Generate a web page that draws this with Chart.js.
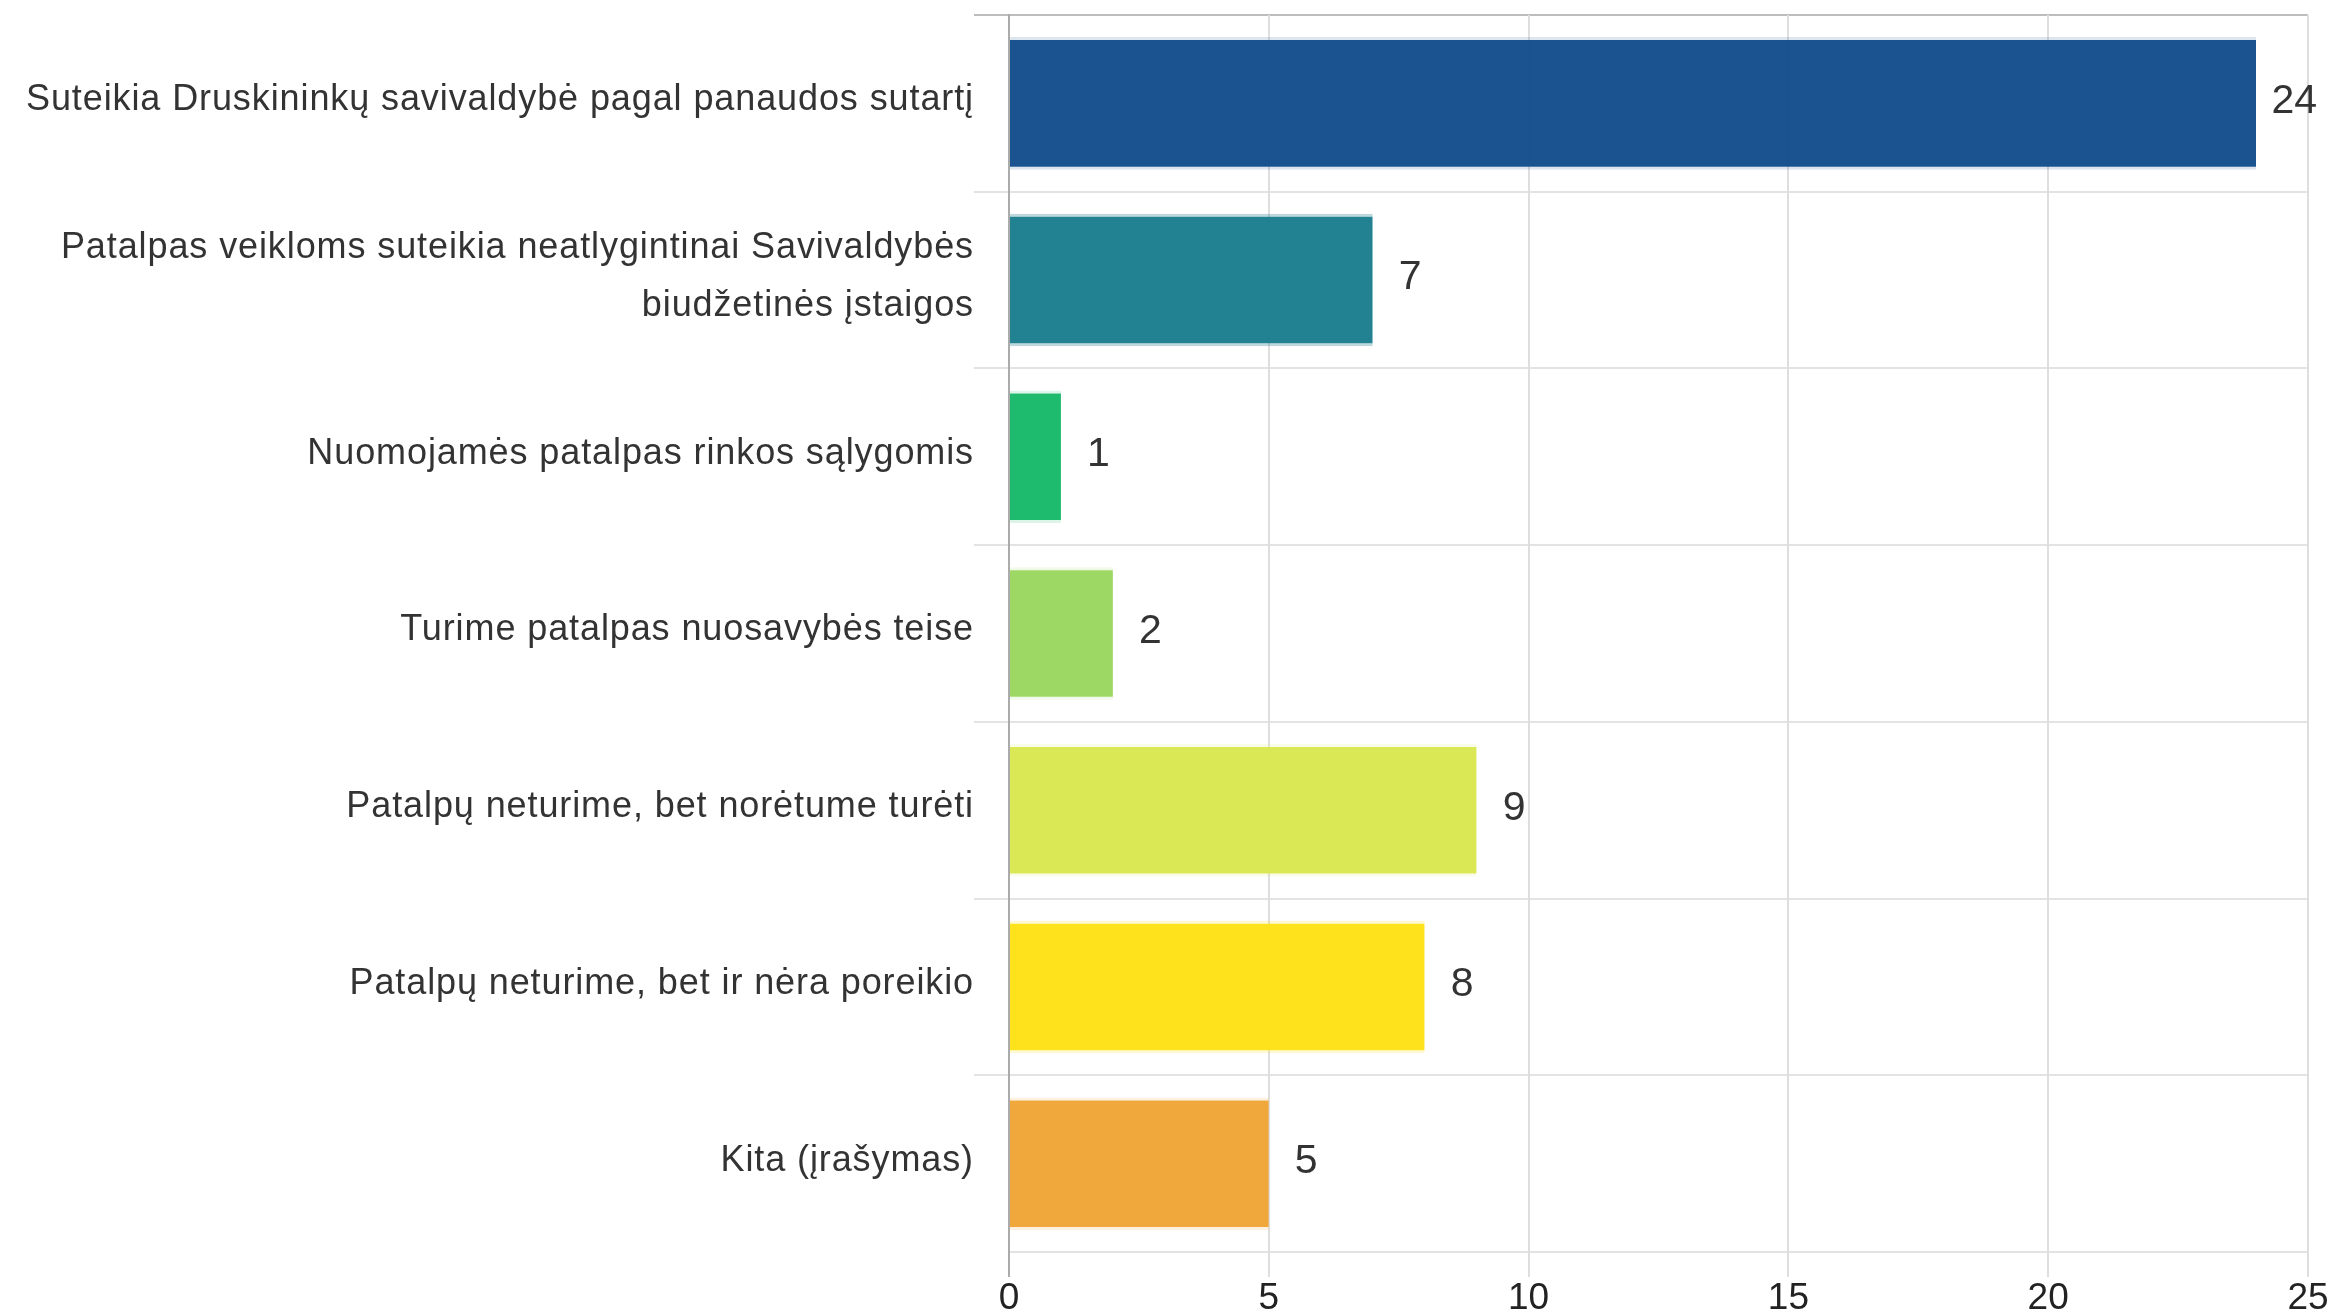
<!DOCTYPE html>
<html>
<head>
<meta charset="utf-8">
<script src="https://cdn.jsdelivr.net/npm/chart.js@4"></script>
<style>
  html, body { margin: 0; padding: 0; background: #ffffff; }
  #wrap { width: 2332px; height: 1314px; position: relative; }
</style>
</head>
<body>
<div id="wrap"><canvas id="c" width="2332" height="1314"></canvas></div>
<script>
const categories = [
  'Suteikia Druskininkų savivaldybė pagal panaudos sutartį',
  ['Patalpas veikloms suteikia neatlygintinai Savivaldybės', 'biudžetinės įstaigos'],
  'Nuomojamės patalpas rinkos sąlygomis',
  'Turime patalpas nuosavybės teise',
  'Patalpų neturime, bet norėtume turėti',
  'Patalpų neturime, bet ir nėra poreikio',
  'Kita (įrašymas)'
];
const values = [24, 7, 1, 2, 9, 8, 5];
const barColors = ['rgba(15,74,139,0.95)', 'rgba(23,123,140,0.95)', 'rgba(18,182,102,0.95)', 'rgba(153,214,92,0.95)', 'rgba(216,231,76,0.95)', 'rgba(253,224,16,0.95)', 'rgba(239,163,51,0.95)'];
const barEdgeColors = ['rgba(26,82,145,0.15)', 'rgba(35,129,145,0.3)', 'rgba(30,186,110,0.15)', 'rgba(159,216,100,0.15)', 'rgba(218,232,85,0.15)', 'rgba(253,226,28,0.2)', 'rgba(240,168,61,0.15)'];
const xTickMin = 0, xTickMax = 25, xTickStep = 5;

const FONT = "'Liberation Sans', Arial, sans-serif";

const valueLabels = {
  id: 'valueLabels',
  afterDatasetsDraw(chart) {
    const ctx = chart.ctx;
    const meta = chart.getDatasetMeta(0);
    ctx.save();
    ctx.letterSpacing = '0px';
    ctx.font = '41px ' + FONT;
    ctx.fillStyle = '#333333';
    ctx.textAlign = 'left';
    ctx.textBaseline = 'middle';
    meta.data.forEach((bar, i) => {
      const txt = String(values[i]);
      const w = ctx.measureText(txt).width;
      const x = Math.min(bar.x + 26, chart.width - 15 - w);
      ctx.fillText(txt, x, bar.y - 2);
    });
    ctx.restore();
  }
};

const wideLabels = {
  id: 'wideLabels',
  afterLayout(chart) {
    const s = chart.scales.y;
    if (s && !s._wide) {
      const orig = s.drawLabels;
      s.drawLabels = function (area) {
        const c = this.ctx;
        c.save();
        c.letterSpacing = '0.9px';
        c.translate(0, -3);
        orig.call(this, area);
        c.restore();
      };
      s._wide = true;
    }
  }
};

new Chart(document.getElementById('c'), {
  type: 'bar',
  data: {
    labels: categories,
    datasets: [{
      data: values,
      backgroundColor: barColors,
      borderColor: barEdgeColors,
      borderWidth: { top: 3, bottom: 3, left: 0, right: 0 },
      borderSkipped: false,
      categoryPercentage: 1,
      barPercentage: 0.75
    }]
  },
  options: {
    indexAxis: 'y',
    responsive: false,
    animation: false,
    layout: { padding: { top: 15, right: 24, bottom: 0, left: 0 } },
    plugins: { legend: { display: false }, tooltip: { enabled: false } },
    scales: {
      y: {
        type: 'category',
        afterFit(scale) { scale.width = 1009; scale.paddingTop = 0; scale.paddingBottom = 0; },
        ticks: {
          color: '#333333',
          font: { family: FONT, size: 36, lineHeight: 1.6 },
          padding: 0
        },
        grid: {
          offset: true,
          lineWidth: 2,
          tickLength: 35,
          color: (ctx) => ctx.index === 0 ? '#bdbdbd' : '#e3e3e3',
          tickColor: (ctx) => ctx.index === undefined ? 'rgba(0,0,0,0)' : (ctx.index === 0 ? '#bdbdbd' : '#e3e3e3')
        },
        border: { display: true, color: '#ababab', width: 2 }
      },
      x: {
        min: xTickMin,
        max: xTickMax,
        afterFit(scale) { scale.height = 62; },
        ticks: {
          stepSize: xTickStep,
          color: '#222222',
          font: { family: FONT, size: 37 },
          padding: 0,
          maxRotation: 0
        },
        grid: {
          lineWidth: 2,
          tickLength: 25,
          color: '#dedede',
          tickColor: (ctx) => ctx.index === 0 ? '#ababab' : '#dedede'
        },
        border: { display: false }
      }
    }
  },
  plugins: [wideLabels, valueLabels]
});
</script>
</body>
</html>
